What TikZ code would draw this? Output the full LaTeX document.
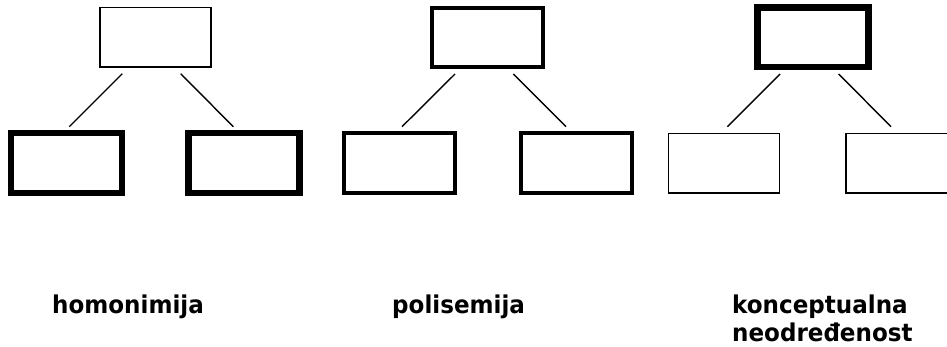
\documentclass[tikz,border=0pt]{standalone}
\usepackage{fontspec}
\setmainfont{DejaVu Sans}
\newcommand{\narrowtxt}[1]{\scalebox{0.94}[1]{#1}}
\begin{document}
\begin{tikzpicture}[x=1pt,y=-1pt,
  box/.style={draw=black,fill=none,rectangle,inner sep=0pt,minimum width=111pt,minimum height=59.5pt},
  thinbox/.style={box,line width=1.4pt},
  midbox/.style={box,line width=4pt},
  thickbox/.style={box,line width=6.4pt},
  link/.style={line width=1.4pt,black},
  lbl/.style={inner sep=0pt,anchor=base west,align=left,font=\fontsize{24.5}{28.5}\selectfont\bfseries}]
\useasboundingbox (0,0) rectangle (947,346);
\clip (0,0) rectangle (947,346);
% group 1: homonimija
\node[thinbox]  (t1) at (155.5,37.3) {};
\node[thickbox] (l1) at (66.3,163) {};
\node[thickbox] (r1) at (244,163) {};
% group 2: polisemija
\node[midbox] (t2) at (487,37.5) {};
\node[midbox] (l2) at (399,163) {};
\node[midbox] (r2) at (576.7,163) {};
% group 3: konceptualna neodredenost
\node[thickbox] (t3) at (813,37.3) {};
\node[thinbox]  (l3) at (724,163.3) {};
\node[thinbox]  (r3) at (901.5,163.3) {};
% connector end points
\coordinate (a1) at (122.3,73.7);  \coordinate (b1) at (69.3,126.7);
\coordinate (c1) at (180.7,73.7);  \coordinate (d1) at (233.3,126.7);
\coordinate (a2) at (455,74);      \coordinate (b2) at (402,126.7);
\coordinate (c2) at (513.3,74);    \coordinate (d2) at (566,126.7);
\coordinate (a3) at (780,74);      \coordinate (b3) at (727.3,126.7);
\coordinate (c3) at (838.7,74);    \coordinate (d3) at (891,126.7);
\draw[link] (a1) -- (b1);
\draw[link] (c1) -- (d1);
\draw[link] (a2) -- (b2);
\draw[link] (c2) -- (d2);
\draw[link] (a3) -- (b3);
\draw[link] (c3) -- (d3);
% labels
\node[lbl] (h) at (52,313.3) {\narrowtxt{homonimija}};
\node[lbl] (p) at (392,313.3) {\narrowtxt{polisemija}};
\node[lbl] (k) at (732,341.8) {\narrowtxt{konceptualna}\\\narrowtxt{neodređenost}};
\end{tikzpicture}
\end{document}
